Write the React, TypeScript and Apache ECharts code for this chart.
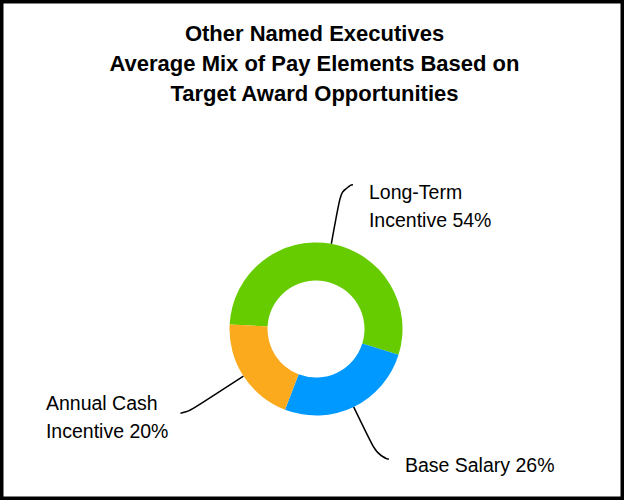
import React, { useEffect, useRef } from "react";
import * as echarts from "echarts";

const titleLines = [
  "Other Named Executives",
  "Average Mix of Pay Elements Based on",
  "Target Award Opportunities",
];
const categories = ["Long-Term Incentive", "Base Salary", "Annual Cash Incentive"];
const labelTexts = [["Long-Term", "Incentive 54%"], ["Base Salary 26%"], ["Annual Cash", "Incentive 20%"]];
const values = [54, 26, 20];
const colors = ["#66CC00", "#0099FF", "#FBAA1E"];

// label placement styling (not data)
const labelStyles = [
  { length: 60, length2: 11, padding: [42, 0, 0, 0], dist: 16 },
  { length: 58, length2: 10, padding: [12, 0, 0, 0], dist: 16 },
  { length: 68, length2: 6, padding: [8, 0, 0, 0], dist: 12 },
];

const FONT = "'Liberation Sans', Arial, Helvetica, sans-serif";

export default function App() {
  const ref = useRef<HTMLDivElement>(null);
  useEffect(() => {
    if (!ref.current) return;
    const chart = echarts.init(ref.current, undefined, { renderer: "svg" });
    const data = categories.map((name, i) => ({
      name,
      value: values[i],
      itemStyle: { color: colors[i] },
      label: {
        formatter: labelTexts[i].map((t) => `{t|${t}}`).join("\n"),
        padding: labelStyles[i].padding,
        distanceToLabelLine: labelStyles[i].dist,
      },
      labelLine: { length: labelStyles[i].length, length2: labelStyles[i].length2 },
    }));
    chart.setOption({
      animation: false,
      backgroundColor: "#ffffff",
      title: {
        text: titleLines.join("\n"),
        left: 314.5,
        top: 18,
        padding: 0,
        textAlign: "center",
        textStyle: {
          fontFamily: FONT,
          fontSize: 22,
          fontWeight: "bold",
          lineHeight: 30,
          color: "#000",
        },
      },
      graphic: [
        {
          type: "rect",
          silent: true,
          z: 100,
          shape: { x: 1.75, y: 1.75, width: 620.5, height: 496.5 },
          style: { fill: "none", stroke: "#000", lineWidth: 3.5 },
        },
      ],
      series: [
        {
          type: "pie",
          center: [316, 329],
          radius: [48.5, 86.5],
          startAngle: 177,
          clockwise: true,
          avoidLabelOverlap: false,
          label: {
            show: true,
            position: "outside",
            alignTo: "none",
            rich: {
              t: {
                fontFamily: FONT,
                fontSize: 19.5,
                lineHeight: 28.5,
                color: "#000",
                align: "left",
              },
            },
          },
          labelLine: {
            show: true,
            smooth: 0.8,
            lineStyle: { color: "#000", width: 1.5 },
          },
          emphasis: { disabled: true },
          data,
        },
      ],
    });
    return () => chart.dispose();
  }, []);
  return (
    <div
      ref={ref}
      style={{ position: "absolute", left: 0, top: 0, width: 624, height: 500, background: "#fff" }}
    />
  );
}
